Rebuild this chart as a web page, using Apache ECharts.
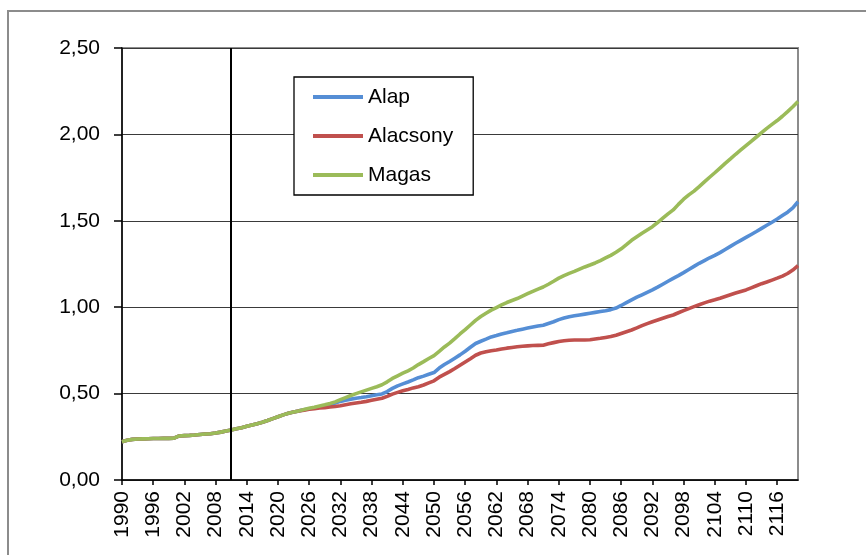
<!DOCTYPE html>
<html>
<head>
<meta charset="utf-8">
<script src="https://cdn.jsdelivr.net/npm/echarts@6/dist/echarts.min.js"></script>
<style>
  html, body { margin: 0; padding: 0; background: #fff; }
  #chart { width: 866px; height: 555px; }
</style>
</head>
<body>
<div id="chart"></div>
<script>
// Years on the category axis: 1990 .. 2120
const years = [];
for (let y = 1990; y <= 2120; y++) years.push(String(y));

// Common history 1990-2024 (all scenarios coincide)
const history = [
  0.222, 0.230, 0.235, 0.237, 0.238, 0.239, 0.240, 0.240, 0.241, 0.241,
  0.242, 0.255, 0.257, 0.258, 0.260, 0.263, 0.266, 0.268, 0.272, 0.277,
  0.283, 0.289, 0.296, 0.303, 0.311, 0.318, 0.326, 0.334, 0.344, 0.355,
  0.366, 0.377, 0.386, 0.393, 0.400
];

// Scenario paths 2025-2120
const alapProj = [
  0.406, 0.412, 0.418, 0.424, 0.430, 0.437, 0.446, 0.455, 0.462, 0.468,
  0.473, 0.477, 0.482, 0.488, 0.493, 0.498, 0.512, 0.530, 0.545, 0.556,
  0.567, 0.579, 0.592, 0.601, 0.612, 0.622, 0.648, 0.668, 0.686, 0.705,
  0.724, 0.745, 0.768, 0.790, 0.803, 0.815, 0.828, 0.836, 0.845, 0.852,
  0.860, 0.866, 0.873, 0.879, 0.885, 0.891, 0.896, 0.906, 0.916, 0.928,
  0.937, 0.945, 0.950, 0.955, 0.960, 0.965, 0.970, 0.975, 0.980, 0.986,
  0.995, 1.010, 1.026, 1.042, 1.058, 1.072, 1.086, 1.100, 1.116, 1.133,
  1.150, 1.167, 1.183, 1.200, 1.218, 1.236, 1.254, 1.270, 1.286, 1.300,
  1.316, 1.334, 1.352, 1.370, 1.387, 1.404, 1.421, 1.438, 1.456, 1.474,
  1.492, 1.510, 1.530, 1.550, 1.575, 1.610
];
const alacsonyProj = [
  0.404, 0.409, 0.413, 0.417, 0.419, 0.422, 0.425, 0.430, 0.436, 0.441,
  0.446, 0.450, 0.455, 0.461, 0.467, 0.473, 0.484, 0.497, 0.507, 0.516,
  0.524, 0.533, 0.540, 0.550, 0.562, 0.574, 0.595, 0.611, 0.627, 0.645,
  0.664, 0.683, 0.702, 0.722, 0.735, 0.742, 0.748, 0.752, 0.758, 0.763,
  0.767, 0.771, 0.774, 0.776, 0.778, 0.779, 0.780, 0.788, 0.795, 0.802,
  0.806, 0.809, 0.810, 0.810, 0.810, 0.812, 0.816, 0.820, 0.825, 0.830,
  0.838, 0.848, 0.858, 0.868, 0.880, 0.893, 0.905, 0.916, 0.926, 0.936,
  0.946, 0.955, 0.968, 0.980, 0.992, 1.003, 1.014, 1.025, 1.035, 1.043,
  1.052, 1.062, 1.072, 1.082, 1.091, 1.100, 1.112, 1.124, 1.136, 1.146,
  1.157, 1.168, 1.180, 1.195, 1.215, 1.240
];
const magasProj = [
  0.408, 0.415, 0.421, 0.428, 0.435, 0.443, 0.452, 0.465, 0.477, 0.489,
  0.500, 0.510, 0.520, 0.530, 0.540, 0.551, 0.568, 0.588, 0.603, 0.618,
  0.632, 0.648, 0.668, 0.685, 0.703, 0.720, 0.745, 0.770, 0.792, 0.818,
  0.845, 0.870, 0.897, 0.924, 0.946, 0.965, 0.983, 0.998, 1.013, 1.027,
  1.039, 1.050, 1.064, 1.078, 1.092, 1.105, 1.117, 1.133, 1.150, 1.168,
  1.183, 1.196, 1.207, 1.220, 1.233, 1.244, 1.256, 1.270, 1.285, 1.300,
  1.318, 1.338, 1.362, 1.387, 1.408, 1.428, 1.447, 1.466, 1.490, 1.515,
  1.540, 1.563, 1.595, 1.625, 1.650, 1.672, 1.698, 1.725, 1.752, 1.778,
  1.805, 1.832, 1.858, 1.885, 1.910, 1.935, 1.960, 1.985, 2.010, 2.035,
  2.058, 2.080, 2.105, 2.132, 2.160, 2.190
];

const alap = history.concat(alapProj);
const alacsony = history.concat(alacsonyProj);
const magas = history.concat(magasProj);

const seriesNames = ['Alap', 'Alacsony', 'Magas'];
const seriesColors = ['#558ED5', '#C0504D', '#9BBB59'];
const dividerYear = '2011';

const labelFont = '"Liberation Sans", Arial, sans-serif';

const chart = echarts.init(document.getElementById('chart'), null, { renderer: 'canvas' });

function lineSeries(name, data, color, extra) {
  return Object.assign({
    name: name,
    type: 'line',
    data: data,
    showSymbol: false,
    symbol: 'none',
    smooth: false,
    lineStyle: { color: color, width: 3.6 },
    itemStyle: { color: color },
    emphasis: { disabled: true },
    animation: false
  }, extra || {});
}

chart.setOption({
  animation: false,
  backgroundColor: '#fff',
  graphic: [{
    type: 'rect',
    shape: { x: 8, y: 11, width: 900, height: 600 },
    style: { fill: 'none', stroke: '#8c8c8c', lineWidth: 2 },
    silent: true,
    z: -1
  }],
  grid: {
    left: 122, right: 68, top: 48, bottom: 75,
    show: true,
    borderColor: '#8c8c8c',
    borderWidth: 2,
    backgroundColor: 'transparent'
  },
  legend: {
    data: seriesNames.map(n => ({ name: n, icon: 'rect' })),
    orient: 'vertical',
    left: 294,
    top: 77,
    itemWidth: 50,
    itemHeight: 4,
    itemGap: 15,
    padding: [8, 20, 8, 19],
    backgroundColor: '#fff',
    borderColor: '#000',
    borderWidth: 1.3,
    selectedMode: false,
    textStyle: {
      fontFamily: labelFont,
      fontSize: 21,
      lineHeight: 24,
      color: '#000'
    }
  },
  xAxis: {
    type: 'category',
    data: years,
    boundaryGap: false,
    axisLine: { show: true, lineStyle: { color: '#000', width: 1.5 } },
    axisTick: { show: true, interval: 5, length: 5, lineStyle: { color: '#000', width: 1.5 } },
    axisLabel: {
      interval: 5,
      rotate: 90,
      margin: 11,
      fontFamily: labelFont,
      fontSize: 21,
      color: '#000'
    },
    splitLine: { show: false }
  },
  yAxis: {
    type: 'value',
    min: 0,
    max: 2.5,
    interval: 0.5,
    axisLine: { show: true, lineStyle: { color: '#000', width: 1.5 } },
    axisTick: { show: true, length: 8, lineStyle: { color: '#000', width: 1.5 } },
    axisLabel: {
      margin: 22,
      fontFamily: labelFont,
      fontSize: 21,
      color: '#000',
      formatter: v => v.toFixed(2).replace('.', ',')
    },
    splitLine: { show: true, lineStyle: { color: '#3a3a3a', width: 1 } }
  },
  series: [
    lineSeries(seriesNames[0], alap, seriesColors[0], {
      markLine: {
        silent: true,
        symbol: 'none',
        label: { show: false },
        lineStyle: { color: '#000', width: 2, type: 'solid' },
        data: [{ xAxis: dividerYear }],
        animation: false
      }
    }),
    lineSeries(seriesNames[1], alacsony, seriesColors[1]),
    lineSeries(seriesNames[2], magas, seriesColors[2])
  ]
});
</script>
</body>
</html>
